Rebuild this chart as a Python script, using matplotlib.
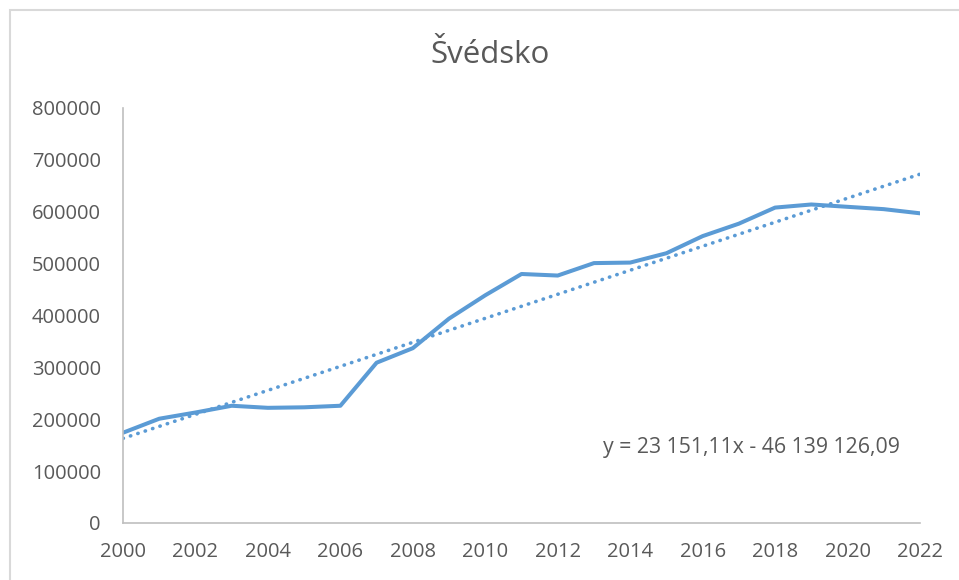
import matplotlib.pyplot as plt
from matplotlib.patches import Rectangle

# data
years = list(range(2000, 2023))
values = [174000, 201000, 213000, 226000, 222000, 223000, 226000,
          309000, 337000, 394000, 439000, 480000, 477000, 501000,
          502000, 520000, 553000, 577000, 608000, 614000, 609500,
          605000, 597000]

# trend line from the chart's equation
slope = 23151.11
intercept = -46139126.09
trend_label = "y = 23 151,11x - 46 139 126,09"

title = "Švédsko"
blue = "#5B9BD5"
grey_text = "#595959"

plt.rcParams['font.family'] = ['Open Sans', 'DejaVu Sans']

fig = plt.figure(figsize=(9.59, 5.8), dpi=100)
ax = fig.add_axes([0.1283, 0.0983, 0.8310, 0.7155])

# chart frame
fig.patches.append(Rectangle((10 / 959, -0.05), 1.0, 1 - 10 / 580 + 0.05,
                             transform=fig.transFigure, fill=False,
                             edgecolor="#D9D9D9", linewidth=1.5))

ax.plot(years, values, color=blue, linewidth=2.9, solid_capstyle='round',
        solid_joinstyle='round')

trend = [slope * x + intercept for x in years]
ax.plot(years, trend, color=blue, linewidth=2.6, linestyle=(0, (0.1, 2.05)),
        dash_capstyle='round')

ax.set_xlim(2000, 2022)
ax.set_ylim(0, 800000)
ax.set_xticks(range(2000, 2023, 2))
ax.set_yticks(range(0, 800001, 100000))

for side in ['top', 'right']:
    ax.spines[side].set_visible(False)
for side in ['left', 'bottom']:
    ax.spines[side].set_color("#BFBFBF")
    ax.spines[side].set_linewidth(1.2)

ax.tick_params(axis='y', length=0, pad=16, labelsize=14.5, labelcolor=grey_text)
ax.tick_params(axis='x', length=0, pad=14, labelsize=14.5, labelcolor=grey_text)

ax.text(2017.35, 145000, trend_label, ha='center', va='center',
        fontsize=15.3, color=grey_text)

fig.text(0.511, 0.905, title, ha='center', va='center', fontsize=22.5,
         color=grey_text)

fig.savefig("out.png", dpi=100)
